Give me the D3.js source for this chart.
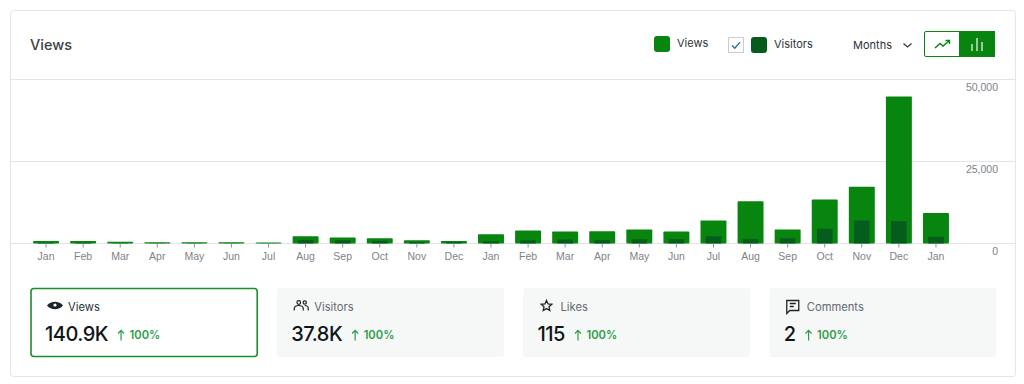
<!DOCTYPE html>
<html>
<head>
<meta charset="utf-8">
<script src="https://cdn.jsdelivr.net/npm/d3@7"></script>
<style>
  html, body { margin: 0; padding: 0; background: #fff; }
  svg { display: block; font-family: Inter, 'Liberation Sans', sans-serif; }
  .axis path { display: none; }
  .axis text { fill: #7e8287; font-size: 10.5px; }
</style>
</head>
<body>
<svg id="chart" width="1024" height="384"></svg>
<script>
const months = ['Jan', 'Feb', 'Mar', 'Apr', 'May', 'Jun', 'Jul', 'Aug', 'Sep', 'Oct', 'Nov', 'Dec',
  'Jan', 'Feb', 'Mar', 'Apr', 'May', 'Jun', 'Jul', 'Aug', 'Sep', 'Oct', 'Nov', 'Dec', 'Jan']
const views = [800, 800, 500, 400, 400, 400, 300, 2200, 1800, 1600, 1000, 800,
  2850, 3950, 3650, 3750, 4250, 3650, 7000, 12900, 4250, 13400, 17300, 44800, 9300]
const visitors = [200, 200, 100, 80, 80, 80, 60, 1100, 1000, 800, 400, 400,
  700, 1000, 1200, 1000, 1300, 1300, 2200, 1400, 1600, 4500, 7000, 6800, 2000]
const yTicks = [0, 25000, 50000]

const cardLabels = ['Views', 'Visitors', 'Likes', 'Comments']
const cardValues = ['140.9K', '37.8K', '115', '2']
const cardChange = ['100%', '100%', '100%', '100%']

const green = '#07850f'
const darkGreen = '#065c1c'
const lineColor = '#e2e4e7'

const svg = d3.select('#chart')

// outer panel
svg.append('rect')
  .attr('x', 10.5).attr('y', 10.5)
  .attr('width', 1005).attr('height', 366)
  .attr('rx', 3)
  .attr('fill', '#fff')
  .attr('stroke', '#e4e5e7')

svg.append('text')
  .attr('x', 30).attr('y', 50)
  .attr('font-size', 14.5).attr('font-weight', 500)
  .attr('fill', '#3c4043')
  .text('Views')

function drawLegend() {
  const g = svg.append('g').attr('class', 'legend')
  const label = (x, y, t) => g.append('text')
    .attr('x', x).attr('y', y)
    .attr('font-size', 11)
    .attr('fill', '#2c3338')
    .text(t)

  g.append('rect').attr('x', 654).attr('y', 36).attr('width', 16).attr('height', 16).attr('rx', 3).attr('fill', green)
  label(677, 47, 'Views')

  g.append('rect').attr('x', 728.5).attr('y', 37.5).attr('width', 15).attr('height', 15)
    .attr('fill', '#fff').attr('stroke', '#c9cdd2')
  g.append('path').attr('d', 'M732 45.5l2.8 2.8 5.2-6.2')
    .attr('fill', 'none').attr('stroke', '#2b6f9e').attr('stroke-width', 1.4)
  g.append('rect').attr('x', 751).attr('y', 37).attr('width', 16).attr('height', 16).attr('rx', 3).attr('fill', darkGreen)
  label(774, 48, 'Visitors')

  label(853, 49, 'Months')
  g.append('path').attr('d', 'M903.5 43.5l4 3.5 4-3.5')
    .attr('fill', 'none').attr('stroke', '#2c3338').attr('stroke-width', 1.2)

  // line / bar toggle
  g.append('rect').attr('x', 924.5).attr('y', 31.5).attr('width', 70).attr('height', 25).attr('rx', 1.5)
    .attr('fill', '#fff').attr('stroke', green)
  g.append('rect').attr('x', 959).attr('y', 31).attr('width', 36).attr('height', 26).attr('fill', green)
  g.append('path').attr('d', 'M935 48l5-4.5 3 2.5 6.5-5.5M945.5 40.5h4v3.5')
    .attr('fill', 'none').attr('stroke', green).attr('stroke-width', 1.4)
  g.append('path').attr('d', 'M972 51v-7M977 51v-13M982 51v-9')
    .attr('fill', 'none').attr('stroke', '#e3f2e4').attr('stroke-width', 1.3)
}

function drawChart() {
  const x = d3.scaleBand()
    .domain(d3.range(months.length))
    .range([27.5, 954.5])
    .paddingInner(0.3)
    .paddingOuter(0.15)
  const y = d3.scaleLinear().domain([0, 50000]).range([243.5, 79.5])

  // gridlines run the whole panel
  svg.append('g').selectAll('line')
    .data(yTicks)
    .enter()
    .append('line')
    .attr('x1', 11).attr('x2', 1015)
    .attr('y1', (d) => y(d)).attr('y2', (d) => y(d))
    .attr('stroke', lineColor)

  const innerX = d3.scaleBand().domain([0]).range([0, x.bandwidth()]).padding(0.25)

  svg.append('g').selectAll('rect')
    .data(views)
    .enter()
    .append('rect')
    .attr('x', (d, i) => x(i))
    .attr('y', (d) => y(d))
    .attr('width', x.bandwidth())
    .attr('height', (d) => y(0) - y(d))
    .attr('rx', 0.8)
    .attr('fill', green)

  svg.append('g').selectAll('rect')
    .data(visitors)
    .enter()
    .append('rect')
    .attr('x', (d, i) => x(i) + innerX(0))
    .attr('y', (d) => y(d))
    .attr('width', innerX.bandwidth())
    .attr('height', (d) => y(0) - y(d))
    .attr('fill', darkGreen)

  const xAxis = svg.append('g')
    .attr('class', 'axis axis--x')
    .attr('transform', `translate(0, ${y(0)})`)
    .call(d3.axisBottom(x).tickSize(4).tickPadding(5).tickFormat((i) => months[i]))
  xAxis.selectAll('line').attr('stroke', '#8c8f94')

  const yAxis = svg.append('g')
    .attr('class', 'axis axis--y')
    .attr('transform', 'translate(998, 0)')
    .call(d3.axisLeft(y).tickValues(yTicks).tickSize(0).tickPadding(0).tickFormat(d3.format(',')))
  yAxis.selectAll('text').attr('dy', 11)
}

const icons = [
  (g) => {
    g.append('path').attr('d', 'M-1 -1C3 -6 11 -6 15 -1C11 4 3 4 -1 -1Z').attr('fill', '#1d2327')
    g.append('circle').attr('cx', 7).attr('cy', -1.5).attr('r', 1.6).attr('fill', '#fff')
  },
  (g) => {
    g.append('path')
      .attr('d', 'M0 4v-2c0-2 2-3 4.5-3s4.5 1 4.5 3v2M10.5 -1c2 0 3.5 1 3.5 3v2')
      .attr('fill', 'none').attr('stroke', '#1d2327').attr('stroke-width', 1.2)
    g.append('circle').attr('cx', 4.5).attr('cy', -4).attr('r', 1.8)
      .attr('fill', 'none').attr('stroke', '#1d2327').attr('stroke-width', 1.2)
    g.append('circle').attr('cx', 10.5).attr('cy', -4).attr('r', 1.6)
      .attr('fill', 'none').attr('stroke', '#1d2327').attr('stroke-width', 1.2)
  },
  (g) => {
    g.append('path')
      .attr('d', d3.lineRadial().curve(d3.curveLinearClosed)(d3.range(10).map((i) => [i * Math.PI / 5, i % 2 ? 2.6 : 5.6])))
      .attr('transform', 'translate(6, -0.5)')
      .attr('fill', 'none').attr('stroke', '#1d2327').attr('stroke-width', 1.3)
  },
  (g) => {
    g.append('path').attr('d', 'M0 -6h12v10h-9l-3 3zM3 -3h6M3 0h4')
      .attr('fill', 'none').attr('stroke', '#1d2327').attr('stroke-width', 1.3)
  },
]

function drawCards() {
  const x = d3.scaleBand()
    .domain(d3.range(cardLabels.length))
    .range([30.5, 996.5])
    .paddingInner(0.0772)

  const cards = svg.append('g').selectAll('g')
    .data(cardLabels)
    .enter()
    .append('g')
    .attr('transform', (d, i) => `translate(${x(i)}, 288)`)

  cards.append('rect')
    .attr('x', (d, i) => (i === 0 ? 0.5 : 0))
    .attr('y', (d, i) => (i === 0 ? 0.5 : 0))
    .attr('width', (d, i) => x.bandwidth() - (i === 0 ? 1 : 0))
    .attr('height', (d, i) => (i === 0 ? 68 : 69))
    .attr('rx', 3)
    .attr('fill', (d, i) => (i === 0 ? '#fff' : '#f6f7f7'))
    .attr('stroke', (d, i) => (i === 0 ? '#1f8a2e' : 'none'))
    .attr('stroke-width', 1.6)

  cards.each(function(d, i) {
    icons[i](d3.select(this).append('g').attr('transform', 'translate(17.5, 18.5)'))
  })

  cards.append('text')
    .attr('x', 37.5).attr('y', 22.5)
    .attr('font-size', 11.2)
    .attr('fill', (d, i) => (i === 0 ? '#2c3338' : '#646970'))
    .text((d) => d)

  const values = cards.append('text')
    .attr('x', 14.5).attr('y', 53)
    .attr('font-size', 20).attr('font-weight', 500)
    .attr('letter-spacing', -0.5)
    .attr('fill', '#101517')
    .text((d, i) => cardValues[i])

  cards.each(function(d, i) {
    const end = 14.5 + values.nodes()[i].getComputedTextLength()
    const g = d3.select(this).append('g').attr('transform', `translate(${end + 13}, 0)`)
    g.append('path').attr('d', 'M0 52.5v-10M-3 45.5l3-3.2 3 3.2')
      .attr('fill', 'none').attr('stroke', '#2a9d45').attr('stroke-width', 1.2)
    g.append('text')
      .attr('x', 8.5).attr('y', 50.5)
      .attr('font-size', 11.2).attr('font-weight', 600)
      .attr('fill', '#2a9d45')
      .text(cardChange[i])
  })
}

drawLegend()
drawChart()
drawCards()
</script>
</body>
</html>
